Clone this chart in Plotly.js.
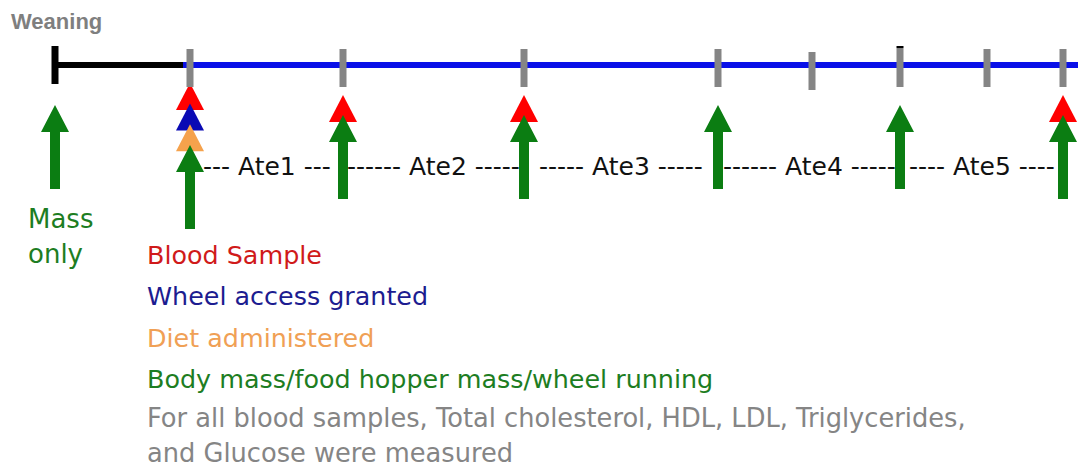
<!DOCTYPE html>
<html>
<head>
<meta charset="utf-8">
<script src="https://cdn.plot.ly/plotly-3.0.1.min.js"></script>
<style>html,body{margin:0;padding:0;background:#fff;}#chart{width:1078px;height:469px;}</style>
</head>
<body>
<div id="chart"></div>
<script>
// ---- data ----
const weaningX = 55;
const dietStartX = 183;
const tickX = [190, 343, 524, 718, 812, 900, 987, 1063];
const bloodX = [190, 343, 524, 1063];
const wheelX = [190];
const dietX = [190];
const massX = [55, 190, 343, 524, 718, 900, 1063];
const periodLabels = ["--- Ate1 ---", "------ Ate2 -----", "----- Ate3 -----", "------ Ate4 -----", "---- Ate5 ----"];
const legendLabels = ["Blood Sample", "Wheel access granted", "Diet administered", "Body mass/food hopper mass/wheel running"];
const noteLines = ["For all blood samples, Total cholesterol, HDL, LDL, Triglycerides,", "and Glucose were measured"];
const massOnlyLabel = ["Mass", "only"];
const topLabel = "Weaning";

// ---- styles ----
const C = {
  red: "#ff0000", blue: "#0a0ab4", orange: "#f5a24c", green: "#0b7d12",
  line: "#0a10e8", tick: "#858585", black: "#000000",
  redText: "#d01a1a", blueText: "#1c1c90", orangeText: "#f0a055", greenText: "#1d7d22", grayText: "#858585"
};
const FONT = "DejaVu Sans, Verdana, sans-serif";
const FONT_B = "Liberation Sans, Arial, sans-serif";
const lineY = 65, lineW = 6;
const triW = 28, triH = 27, shaftW = 10, arrowLen = 84;

const shapes = [];
const annotations = [];

function rect(x0, x1, y0, y1, color) {
  shapes.push({type: "rect", xref: "x", yref: "y", x0, x1, y0, y1, fillcolor: color, line: {width: 0}, layer: "above"});
}
function tri(x, yTip, color) {
  shapes.push({type: "path", xref: "x", yref: "y",
    path: `M ${x} ${yTip} L ${x + triW / 2} ${yTip + triH} L ${x - triW / 2} ${yTip + triH} Z`,
    fillcolor: color, line: {width: 0}, layer: "above"});
}
function arrow(x, yTip, color) {
  const yb = yTip + arrowLen;
  shapes.push({type: "path", xref: "x", yref: "y",
    path: `M ${x} ${yTip} L ${x + triW / 2} ${yTip + triH} L ${x + shaftW / 2} ${yTip + triH} L ${x + shaftW / 2} ${yb} L ${x - shaftW / 2} ${yb} L ${x - shaftW / 2} ${yTip + triH} L ${x - triW / 2} ${yTip + triH} Z`,
    fillcolor: color, line: {width: 0}, layer: "above"});
}
function text(x, y, t, color, size, anchor, family, bold) {
  annotations.push({xref: "x", yref: "y", x, y, text: bold ? "<b>" + t + "</b>" : t, showarrow: false,
    xanchor: anchor || "left", yanchor: "middle", font: {family: family || FONT, size, color}});
}

// timeline
rect(weaningX, dietStartX, lineY - lineW / 2, lineY + lineW / 2, C.black);
rect(dietStartX, 1078, lineY - lineW / 2, lineY + lineW / 2, C.line);
rect(weaningX - 3.5, weaningX + 3.5, 46, 84, C.black);

// event markers stacked under each time point
massX.forEach(x => {
  const stack = [];
  if (bloodX.includes(x)) stack.push(C.red);
  if (wheelX.includes(x)) stack.push(C.blue);
  if (dietX.includes(x)) stack.push(C.orange);
  const n = stack.length;
  const greenTip = 105 + (n === 0 ? 0 : 10 + 15 * (n - 1));
  const step = n >= 3 ? 20.7 : 20;
  stack.forEach((col, i) => tri(x, greenTip - step * (n - i), col));
  arrow(x, greenTip, C.green);
});

// gray time ticks drawn over markers
tickX.forEach(x => {
  const off = x === 812 ? 3 : 0;
  rect(x - 3.5, x + 3.5, 49 + off, 87 + off, C.tick);
});
rect(900 - 3.5, 900 + 3.5, 46, 48.5, C.black);

// period labels between mass measurements after diet start
const periodPts = massX.filter(x => x >= dietStartX);
periodLabels.forEach((t, i) => {
  text((periodPts[i] + periodPts[i + 1]) / 2, 166, t, "#111111", 25, "center");
});

// labels
text(9, 21, topLabel, "#7f7f7f", 22, "left", FONT_B, true);
text(26, 219, massOnlyLabel[0], C.greenText, 26, "left");
text(26, 254, massOnlyLabel[1], C.greenText, 26, "left");
const legendColors = [C.redText, C.blueText, C.orangeText, C.greenText];
legendLabels.forEach((t, i) => text(145, 255 + 41.3 * i, t, legendColors[i], 25.4, "left"));
noteLines.forEach((t, i) => text(145, 418 + 35 * i, t, C.grayText, 25.7, "left"));

Plotly.newPlot("chart", [], {
  width: 1078, height: 469,
  margin: {l: 0, r: 0, t: 0, b: 0},
  paper_bgcolor: "#ffffff", plot_bgcolor: "#ffffff",
  xaxis: {range: [0, 1078], visible: false, fixedrange: true},
  yaxis: {range: [469, 0], visible: false, fixedrange: true},
  showlegend: false,
  shapes, annotations
}, {displayModeBar: false, staticPlot: true});
</script>
</body>
</html>
